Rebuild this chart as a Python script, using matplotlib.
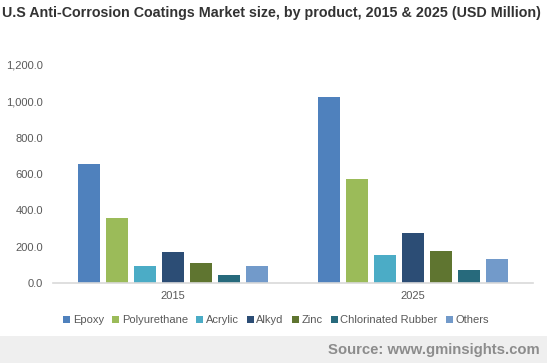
import numpy as np
import matplotlib.pyplot as plt
from matplotlib.patches import Patch, Rectangle
from matplotlib.ticker import FuncFormatter

years = ["2015", "2025"]
products = ["Epoxy", "Polyurethane", "Acrylic", "Alkyd", "Zinc", "Chlorinated Rubber", "Others"]
values_2015 = [655, 358, 94, 171, 110, 44, 94]
values_2025 = [1024, 572, 154, 275, 176, 72, 132]
colors = ["#4f81bd", "#9bbb59", "#4bacc6", "#2c4d75", "#5f7530", "#276a7c", "#729aca"]

plt.rcParams['font.family'] = ['Liberation Sans', 'DejaVu Sans']

fig = plt.figure(figsize=(5.47, 3.63), dpi=100, facecolor='white')
ax = fig.add_axes([0.097, 0.220, 0.877, 0.601])

# footer band
fig.patches.append(Rectangle((0, 0), 1, 0.074, transform=fig.transFigure,
                             facecolor='#efefef', edgecolor='none', zorder=0))

x = np.arange(len(years))
pitch = 0.1167
width = 0.0917
series = np.array([values_2015, values_2025]).T
for i, (name, vals) in enumerate(zip(products, series)):
    offset = (i - (len(products) - 1) / 2) * pitch
    ax.bar(x + offset, vals, width=width, color=colors[i], label=name, zorder=2)

ax.set_xlim(-0.5, 1.5)
ax.set_ylim(0, 1200)
ax.set_yticks(np.arange(0, 1201, 200))
ax.yaxis.set_major_formatter(FuncFormatter(lambda v, p: f"{v:,.1f}"))
ax.set_xticks(x)
ax.set_xticklabels(years)

for s in ['top', 'right', 'left']:
    ax.spines[s].set_visible(False)
ax.spines['bottom'].set_color('#d9d9d9')
ax.spines['bottom'].set_linewidth(1.2)
ax.tick_params(axis='both', length=0, labelsize=8, labelcolor='#595959')
ax.tick_params(axis='y', pad=7)
ax.tick_params(axis='x', pad=6)

fig.text(0.004, 0.965, "U.S Anti-Corrosion Coatings Market size, by product, 2015 & 2025 (USD Million)",
         fontsize=10.3, fontweight='bold', color='#333333', ha='left', va='center')

handles = [Patch(facecolor=c, edgecolor='none') for c in colors]
fig.legend(handles, products, loc='center', bbox_to_anchor=(0.505, 0.118), ncol=7,
           frameon=False, fontsize=8, handlelength=0.6, handleheight=0.6,
           handletextpad=0.25, columnspacing=0.75, labelcolor='#595959')

fig.text(0.987, 0.036, "Source: www.gminsights.com", fontsize=10.7, fontweight='bold',
         color='#8c8c8c', ha='right', va='center')

fig.savefig("out.png", dpi=100, facecolor='white')
